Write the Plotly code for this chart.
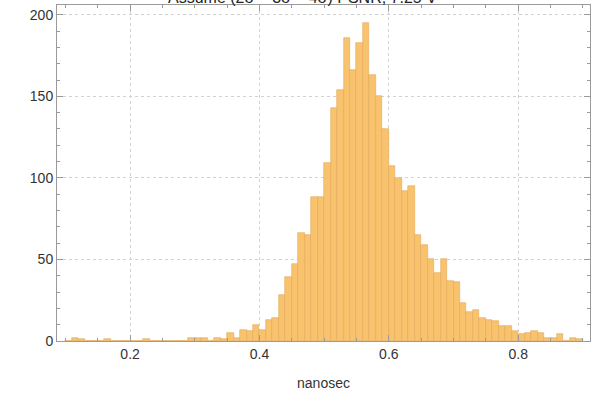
import plotly.graph_objects as go

# Histogram bins (left edges, nanosec) and counts, bin width 0.01
bin_starts = [round(0.10 + 0.01 * i, 2) for i in range(80)]
counts = [
    0, 2, 1, 0, 0, 0, 1, 0, 0, 0,        # 0.10-0.19
    0, 0, 1, 0, 0, 0, 0, 0, 0, 2,        # 0.20-0.29
    2, 2, 0, 2, 1, 5, 2, 7, 6, 10,       # 0.30-0.39
    7, 13, 14, 28, 39, 47, 66, 65, 88, 88,   # 0.40-0.49
    109, 143, 154, 186, 166, 183, 195, 163, 150, 130,  # 0.50-0.59
    107, 100, 92, 95, 65, 59, 50, 42, 50, 37,  # 0.60-0.69
    36, 23, 18, 19, 14, 13, 12, 9, 9, 6,   # 0.70-0.79
    4, 5, 6, 5, 2, 2, 4, 0, 2, 1,          # 0.80-0.89
]
bin_width = 0.01
x_tick_vals = [0.2, 0.4, 0.6, 0.8]
x_tick_text = ["0.2", "0.4", "0.6", "0.8"]
y_tick_vals = [0, 50, 100, 150, 200]
y_tick_text = ["0", "50", "100", "150", "200"]
title_text = "Assume (2σ – 3σ – 4σ) PSNR, 7.25 V"

FONT = "Liberation Sans, Arial, sans-serif"

fig = go.Figure(
    go.Bar(
        x=[s + bin_width / 2 for s in bin_starts],
        y=counts,
        width=bin_width,
        marker=dict(color="#F9C36E", line=dict(color="#E3A85A", width=0.6)),
        hoverinfo="x+y",
    )
)

axis_common = dict(
    showline=True,
    linecolor="#9a9a9a",
    linewidth=1,
    mirror="ticks",
    ticks="inside",
    tickcolor="#9a9a9a",
    ticklen=6,
    showgrid=True,
    gridcolor="#d2d2d2",
    griddash="dot",
    gridwidth=1,
    zeroline=False,
    tickfont=dict(family=FONT, size=14, color="#333333"),
)

fig.update_layout(
    width=592,
    height=401,
    margin=dict(l=57, r=2, t=5, b=60),
    paper_bgcolor="white",
    plot_bgcolor="white",
    showlegend=False,
    bargap=0,
    xaxis=dict(
        range=[0.087, 0.911],
        tickvals=x_tick_vals,
        ticktext=x_tick_text,
        minor=dict(dtick=0.05, tick0=0, ticks="inside", ticklen=3, tickcolor="#9a9a9a", showgrid=False),
        title=dict(text="nanosec", font=dict(family=FONT, size=14, color="#333333"), standoff=17),
        **axis_common,
    ),
    yaxis=dict(
        range=[0, 206],
        tickvals=y_tick_vals,
        ticktext=y_tick_text,
        minor=dict(dtick=10, tick0=0, ticks="inside", ticklen=3, tickcolor="#9a9a9a", showgrid=False),
        **axis_common,
    ),
    annotations=[
        dict(
            text=title_text,
            xref="paper", yref="paper",
            x=0.46, y=1.0, xanchor="center", yanchor="bottom",
            yshift=-3,
            showarrow=False,
            font=dict(family=FONT, size=16, color="#222222"),
        )
    ],
)

fig.write_html(
    "out.html",
    config={"displayModeBar": False},
    post_script="document.body.style.margin='0';",
)
